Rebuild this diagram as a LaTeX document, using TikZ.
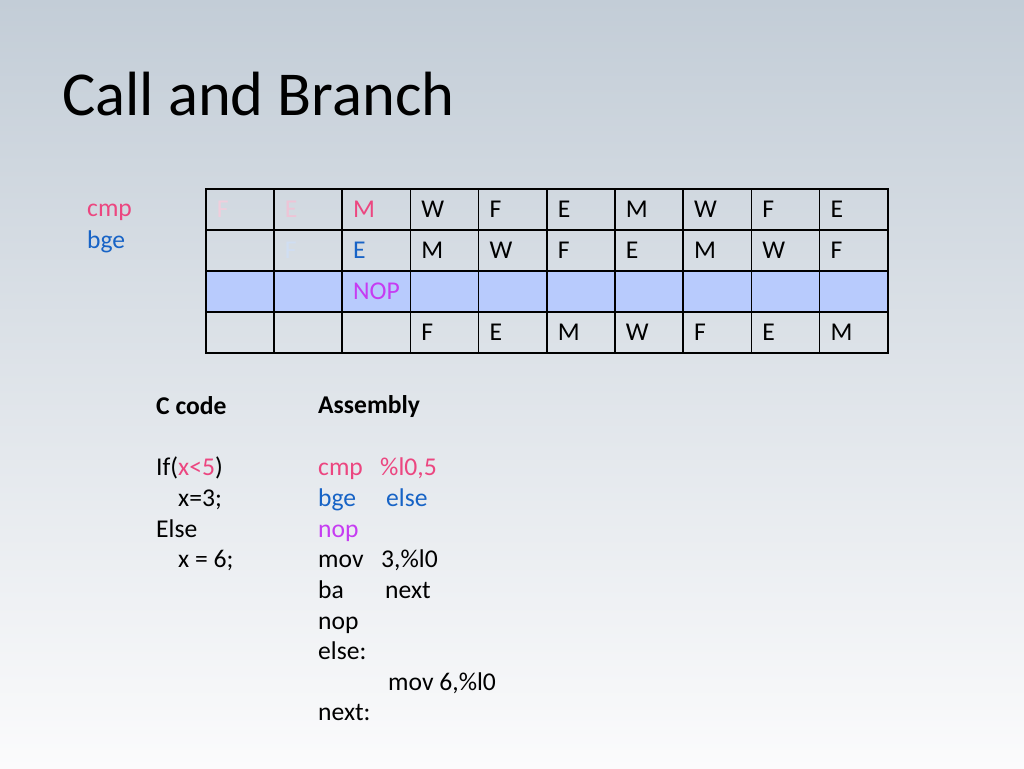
\documentclass[tikz,border=0pt]{standalone}
\usepackage{fontspec}
\setmainfont{Carlito}
\definecolor{bgtop}{HTML}{C3CDD7}
\definecolor{bgmid}{HTML}{DCE2E7}
\definecolor{bgbot}{HTML}{FBFBFC}
\definecolor{pk}{HTML}{EC4680}
\definecolor{pkA}{HTML}{F0CEDC}
\definecolor{pkB}{HTML}{EEC4D6}
\definecolor{bl}{HTML}{1763C6}
\definecolor{blA}{HTML}{D0DEF2}
\definecolor{pu}{HTML}{C63CF2}
\definecolor{nopfill}{HTML}{B8CBFD}
\begin{document}
\begin{tikzpicture}[x=1pt,y=-1pt,
  cell/.style={draw=black, line width=1.5pt, minimum width=68.2pt, minimum height=41pt,
    inner sep=0pt, anchor=north west, text width=46.2pt, inner xsep=11pt, align=left,
    text height=16.5pt, text depth=0pt, font=\fontsize{25.6}{30.7}\selectfont},
  nopcell/.style={cell, fill=nopfill},
  txt/.style={anchor=base west, inner sep=0pt, font=\fontsize{25.6}{30.7}\selectfont},
  bold/.style={txt, font=\fontsize{25.6}{30.7}\selectfont\bfseries}]
\shade[top color=bgtop, middle color=bgmid, bottom color=bgbot] (0,0) rectangle (1024,768);
\useasboundingbox (0,0) rectangle (1024,768);
% title
\node[anchor=base west, inner sep=0pt, font=\fontsize{62.5}{70}\selectfont] (title) at (62,115) {Call and Branch};
% side labels
\node[txt, text=pk] (lcmp) at (87,216) {cmp};
\node[txt, text=bl] (lbge) at (87,248) {bge};
% table
\foreach \i/\t in {0/{\textcolor{pkA}{F}},1/{\textcolor{pkB}{E}},2/{\textcolor{pk}{M}},3/W,4/F,5/E,6/M,7/W,8/F,9/E}
  \node[cell] (r1c\i) at ({205+68.2*\i},188) {\t};
\foreach \i/\t in {0/{},1/{\textcolor{blA}{F}},2/{\textcolor{bl}{E}},3/M,4/W,5/F,6/E,7/M,8/W,9/F}
  \node[cell] (r2c\i) at ({205+68.2*\i},229) {\t};
\foreach \i/\t in {0/{},1/{},2/{\textcolor{pu}{NOP}},3/{},4/{},5/{},6/{},7/{},8/{},9/{}}
  \node[nopcell] (r3c\i) at ({205+68.2*\i},270) {\t};
\foreach \i/\t in {0/{},1/{},2/{},3/F,4/E,5/M,6/W,7/F,8/E,9/M}
  \node[cell] (r4c\i) at ({205+68.2*\i},311) {\t};
% C code
\node[bold] (ccode) at (156,414) {C code};
\node[txt] (c1) at (156,475) {If(\textcolor{pk}{x<5})};
\node[txt] (c2) at (178,506) {x=3;};
\node[txt] (c3) at (156,537) {Else};
\node[txt] (c4) at (178,567) {x = 6;};
% Assembly
\node[bold] (asm) at (318,413) {Assembly};
\node[txt, text=pk] (a1) at (318,475) {cmp};
\node[txt, text=pk] (a1b) at (380,475) {\%l0,5};
\node[txt, text=bl] (a2) at (318,506) {bge};
\node[txt, text=bl] (a2b) at (386,506) {else};
\node[txt, text=pu] (a3) at (318,537) {nop};
\node[txt] (a4) at (318,567) {mov};
\node[txt] (a4b) at (381,567) {3,\%l0};
\node[txt] (a5) at (318,598) {ba};
\node[txt] (a5b) at (385,598) {next};
\node[txt] (a6) at (318,629) {nop};
\node[txt] (a7) at (318,659) {else:};
\node[txt] (a8) at (388,690) {mov 6,\%l0};
\node[txt] (a9) at (318,720) {next:};
\end{tikzpicture}
\end{document}
